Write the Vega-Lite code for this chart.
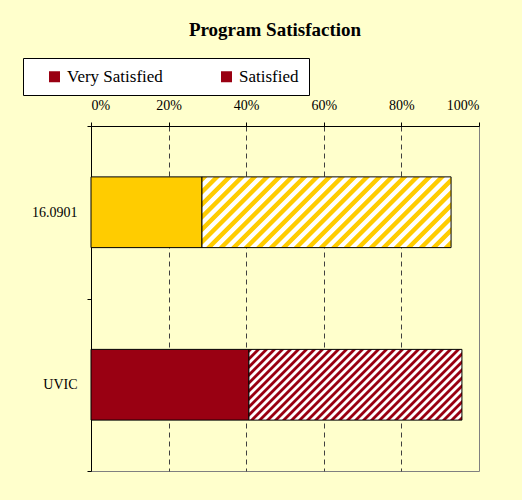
{
  "$schema": "https://vega.github.io/schema/vega-lite/v6.json",
  "width": 388,
  "height": 345,
  "autosize": {"type": "none"},
  "padding": {"left": 91, "top": 126, "right": 43, "bottom": 29},
  "background": "#FFFFCC",
  "config": {
    "view": {"stroke": "#808080", "strokeWidth": 1},
    "font": "'Liberation Serif', 'Times New Roman', serif",
    "legend": {"labelFont": "'Liberation Serif', 'Times New Roman', serif", "titleFont": "'Liberation Serif', 'Times New Roman', serif", "labelFontSize": 17, "labelColor": "black"}
  },
  "title": {"text": "Program Satisfaction", "font": "'Liberation Serif', 'Times New Roman', serif", "fontSize": 19, "fontWeight": "bold", "color": "black", "anchor": "middle", "dx": -10, "offset": 18},
  "data": {"values": [
    {"school": "16.0901", "level": "Very Satisfied", "pct": 0.286},
    {"school": "16.0901", "level": "Satisfied", "pct": 0.642},
    {"school": "UVIC", "level": "Very Satisfied", "pct": 0.407},
    {"school": "UVIC", "level": "Satisfied", "pct": 0.549}
  ]},
  "mark": {"type": "bar", "stroke": "black", "strokeWidth": 1, "height": {"band": 0.41}},
  "encoding": {
    "y": {"field": "school", "type": "nominal", "sort": ["16.0901", "UVIC"],
      "scale": {"paddingInner": 0, "paddingOuter": 0},
      "axis": {"title": null, "domainColor": "black", "tickColor": "black", "tickBand": "extent", "tickSize": 4, "labelFont": "'Liberation Serif', 'Times New Roman', serif", "labelFontSize": 14, "labelColor": "black", "labelPadding": 10, "grid": false}},
    "x": {"field": "pct", "type": "quantitative", "stack": "zero",
      "scale": {"domain": [0, 1], "nice": false},
      "axis": {"orient": "top", "title": null, "format": ".0%", "values": [0, 0.2, 0.4, 0.6, 0.8, 1],
        "grid": true, "gridDash": [5, 4], "gridColor": "#404040",
        "gridOpacity": {"condition": {"test": "datum.value <= 0 || datum.value >= 1", "value": 0}, "value": 1},
        "domainColor": "black", "tickColor": "black", "tickSize": 4,
        "labelFont": "'Liberation Serif', 'Times New Roman', serif", "labelFontSize": 14, "labelColor": "black", "labelPadding": 10}},
    "order": {"field": "level", "sort": "descending"},
    "opacity": {
      "field": "level", "type": "ordinal",
      "scale": {"domain": ["Very Satisfied", "Satisfied"], "range": [1, 1]},
      "legend": {
        "orient": "none", "legendX": -68, "legendY": -68, "direction": "horizontal",
        "title": " ", "titleOrient": "left", "titleFontSize": 17, "titlePadding": 13,
        "fillColor": "white", "strokeColor": "black", "padding": 10,
        "labelFont": "'Liberation Serif', 'Times New Roman', serif", "labelFontSize": 17, "labelColor": "black", "labelOffset": 4,
        "symbolType": "square", "symbolSize": 121, "symbolStrokeColor": "black", "symbolStrokeWidth": 1, "symbolOpacity": 1,
        "columnPadding": 55,
        "encode": {"symbols": {
          "fill": {
            "condition": {"test": "datum.value === 'Satisfied'", "value": {"gradient": "linear", "x1": 0, "y1": 0, "x2": 1, "y2": 1, "stops": [
              {"offset": 0, "color": "#990012"}, {"offset": 0.47, "color": "#990012"}, {"offset": 0.53, "color": "#FFFFFF"}, {"offset": 0.77, "color": "#FFFFFF"}, {"offset": 0.83, "color": "#990012"}, {"offset": 1, "color": "#990012"}
            ]}},
            "value": "#990012"
          },
          "stroke": {"value": "black"},
          "strokeWidth": {"value": 1}
        }}
      }
    },
    "fill": {
      "value": "#990012",
      "condition": [
        {"test": "datum.school === '16.0901' && datum.level === 'Very Satisfied'", "value": "#FFCC00"},
        {"test": "datum.school === '16.0901' && datum.level === 'Satisfied'", "value": {"gradient": "linear", "x1": 0, "y1": 0, "x2": 1.8576, "y2": 0.5272, "stops": [
          {"offset": 0, "color": "#FFCC00"}, {"offset": 0.01, "color": "#FFCC00"}, {"offset": 0.0125, "color": "#FFFFFF"}, {"offset": 0.0225, "color": "#FFFFFF"},
          {"offset": 0.025, "color": "#FFCC00"}, {"offset": 0.035, "color": "#FFCC00"}, {"offset": 0.0375, "color": "#FFFFFF"}, {"offset": 0.0475, "color": "#FFFFFF"},
          {"offset": 0.05, "color": "#FFCC00"}, {"offset": 0.06, "color": "#FFCC00"}, {"offset": 0.0625, "color": "#FFFFFF"}, {"offset": 0.0725, "color": "#FFFFFF"},
          {"offset": 0.075, "color": "#FFCC00"}, {"offset": 0.085, "color": "#FFCC00"}, {"offset": 0.0875, "color": "#FFFFFF"}, {"offset": 0.0975, "color": "#FFFFFF"},
          {"offset": 0.1, "color": "#FFCC00"}, {"offset": 0.11, "color": "#FFCC00"}, {"offset": 0.1125, "color": "#FFFFFF"}, {"offset": 0.1225, "color": "#FFFFFF"},
          {"offset": 0.125, "color": "#FFCC00"}, {"offset": 0.135, "color": "#FFCC00"}, {"offset": 0.1375, "color": "#FFFFFF"}, {"offset": 0.1475, "color": "#FFFFFF"},
          {"offset": 0.15, "color": "#FFCC00"}, {"offset": 0.16, "color": "#FFCC00"}, {"offset": 0.1625, "color": "#FFFFFF"}, {"offset": 0.1725, "color": "#FFFFFF"},
          {"offset": 0.175, "color": "#FFCC00"}, {"offset": 0.185, "color": "#FFCC00"}, {"offset": 0.1875, "color": "#FFFFFF"}, {"offset": 0.1975, "color": "#FFFFFF"},
          {"offset": 0.2, "color": "#FFCC00"}, {"offset": 0.21, "color": "#FFCC00"}, {"offset": 0.2125, "color": "#FFFFFF"}, {"offset": 0.2225, "color": "#FFFFFF"},
          {"offset": 0.225, "color": "#FFCC00"}, {"offset": 0.235, "color": "#FFCC00"}, {"offset": 0.2375, "color": "#FFFFFF"}, {"offset": 0.2475, "color": "#FFFFFF"},
          {"offset": 0.25, "color": "#FFCC00"}, {"offset": 0.26, "color": "#FFCC00"}, {"offset": 0.2625, "color": "#FFFFFF"}, {"offset": 0.2725, "color": "#FFFFFF"},
          {"offset": 0.275, "color": "#FFCC00"}, {"offset": 0.285, "color": "#FFCC00"}, {"offset": 0.2875, "color": "#FFFFFF"}, {"offset": 0.2975, "color": "#FFFFFF"},
          {"offset": 0.3, "color": "#FFCC00"}, {"offset": 0.31, "color": "#FFCC00"}, {"offset": 0.3125, "color": "#FFFFFF"}, {"offset": 0.3225, "color": "#FFFFFF"},
          {"offset": 0.325, "color": "#FFCC00"}, {"offset": 0.335, "color": "#FFCC00"}, {"offset": 0.3375, "color": "#FFFFFF"}, {"offset": 0.3475, "color": "#FFFFFF"},
          {"offset": 0.35, "color": "#FFCC00"}, {"offset": 0.36, "color": "#FFCC00"}, {"offset": 0.3625, "color": "#FFFFFF"}, {"offset": 0.3725, "color": "#FFFFFF"},
          {"offset": 0.375, "color": "#FFCC00"}, {"offset": 0.385, "color": "#FFCC00"}, {"offset": 0.3875, "color": "#FFFFFF"}, {"offset": 0.3975, "color": "#FFFFFF"},
          {"offset": 0.4, "color": "#FFCC00"}, {"offset": 0.41, "color": "#FFCC00"}, {"offset": 0.4125, "color": "#FFFFFF"}, {"offset": 0.4225, "color": "#FFFFFF"},
          {"offset": 0.425, "color": "#FFCC00"}, {"offset": 0.435, "color": "#FFCC00"}, {"offset": 0.4375, "color": "#FFFFFF"}, {"offset": 0.4475, "color": "#FFFFFF"},
          {"offset": 0.45, "color": "#FFCC00"}, {"offset": 0.46, "color": "#FFCC00"}, {"offset": 0.4625, "color": "#FFFFFF"}, {"offset": 0.4725, "color": "#FFFFFF"},
          {"offset": 0.475, "color": "#FFCC00"}, {"offset": 0.485, "color": "#FFCC00"}, {"offset": 0.4875, "color": "#FFFFFF"}, {"offset": 0.4975, "color": "#FFFFFF"},
          {"offset": 0.5, "color": "#FFCC00"}, {"offset": 0.51, "color": "#FFCC00"}, {"offset": 0.5125, "color": "#FFFFFF"}, {"offset": 0.5225, "color": "#FFFFFF"},
          {"offset": 0.525, "color": "#FFCC00"}, {"offset": 0.535, "color": "#FFCC00"}, {"offset": 0.5375, "color": "#FFFFFF"}, {"offset": 0.5475, "color": "#FFFFFF"},
          {"offset": 0.55, "color": "#FFCC00"}, {"offset": 0.56, "color": "#FFCC00"}, {"offset": 0.5625, "color": "#FFFFFF"}, {"offset": 0.5725, "color": "#FFFFFF"},
          {"offset": 0.575, "color": "#FFCC00"}, {"offset": 0.585, "color": "#FFCC00"}, {"offset": 0.5875, "color": "#FFFFFF"}, {"offset": 0.5975, "color": "#FFFFFF"},
          {"offset": 0.6, "color": "#FFCC00"}, {"offset": 0.61, "color": "#FFCC00"}, {"offset": 0.6125, "color": "#FFFFFF"}, {"offset": 0.6225, "color": "#FFFFFF"},
          {"offset": 0.625, "color": "#FFCC00"}, {"offset": 0.635, "color": "#FFCC00"}, {"offset": 0.6375, "color": "#FFFFFF"}, {"offset": 0.6475, "color": "#FFFFFF"},
          {"offset": 0.65, "color": "#FFCC00"}, {"offset": 1, "color": "#FFCC00"}
        ]}},
        {"test": "datum.school === 'UVIC' && datum.level === 'Satisfied'", "value": {"gradient": "linear", "x1": 0, "y1": 0, "x2": 1.6916, "y2": 0.5615, "stops": [
          {"offset": 0, "color": "#990012"}, {"offset": 0.008, "color": "#990012"}, {"offset": 0.01, "color": "#FFFFFF"}, {"offset": 0.018, "color": "#FFFFFF"},
          {"offset": 0.02, "color": "#990012"}, {"offset": 0.028, "color": "#990012"}, {"offset": 0.03, "color": "#FFFFFF"}, {"offset": 0.038, "color": "#FFFFFF"},
          {"offset": 0.04, "color": "#990012"}, {"offset": 0.048, "color": "#990012"}, {"offset": 0.05, "color": "#FFFFFF"}, {"offset": 0.058, "color": "#FFFFFF"},
          {"offset": 0.06, "color": "#990012"}, {"offset": 0.068, "color": "#990012"}, {"offset": 0.07, "color": "#FFFFFF"}, {"offset": 0.078, "color": "#FFFFFF"},
          {"offset": 0.08, "color": "#990012"}, {"offset": 0.088, "color": "#990012"}, {"offset": 0.09, "color": "#FFFFFF"}, {"offset": 0.098, "color": "#FFFFFF"},
          {"offset": 0.1, "color": "#990012"}, {"offset": 0.108, "color": "#990012"}, {"offset": 0.11, "color": "#FFFFFF"}, {"offset": 0.118, "color": "#FFFFFF"},
          {"offset": 0.12, "color": "#990012"}, {"offset": 0.128, "color": "#990012"}, {"offset": 0.13, "color": "#FFFFFF"}, {"offset": 0.138, "color": "#FFFFFF"},
          {"offset": 0.14, "color": "#990012"}, {"offset": 0.148, "color": "#990012"}, {"offset": 0.15, "color": "#FFFFFF"}, {"offset": 0.158, "color": "#FFFFFF"},
          {"offset": 0.16, "color": "#990012"}, {"offset": 0.168, "color": "#990012"}, {"offset": 0.17, "color": "#FFFFFF"}, {"offset": 0.178, "color": "#FFFFFF"},
          {"offset": 0.18, "color": "#990012"}, {"offset": 0.188, "color": "#990012"}, {"offset": 0.19, "color": "#FFFFFF"}, {"offset": 0.198, "color": "#FFFFFF"},
          {"offset": 0.2, "color": "#990012"}, {"offset": 0.208, "color": "#990012"}, {"offset": 0.21, "color": "#FFFFFF"}, {"offset": 0.218, "color": "#FFFFFF"},
          {"offset": 0.22, "color": "#990012"}, {"offset": 0.228, "color": "#990012"}, {"offset": 0.23, "color": "#FFFFFF"}, {"offset": 0.238, "color": "#FFFFFF"},
          {"offset": 0.24, "color": "#990012"}, {"offset": 0.248, "color": "#990012"}, {"offset": 0.25, "color": "#FFFFFF"}, {"offset": 0.258, "color": "#FFFFFF"},
          {"offset": 0.26, "color": "#990012"}, {"offset": 0.268, "color": "#990012"}, {"offset": 0.27, "color": "#FFFFFF"}, {"offset": 0.278, "color": "#FFFFFF"},
          {"offset": 0.28, "color": "#990012"}, {"offset": 0.288, "color": "#990012"}, {"offset": 0.29, "color": "#FFFFFF"}, {"offset": 0.298, "color": "#FFFFFF"},
          {"offset": 0.3, "color": "#990012"}, {"offset": 0.308, "color": "#990012"}, {"offset": 0.31, "color": "#FFFFFF"}, {"offset": 0.318, "color": "#FFFFFF"},
          {"offset": 0.32, "color": "#990012"}, {"offset": 0.328, "color": "#990012"}, {"offset": 0.33, "color": "#FFFFFF"}, {"offset": 0.338, "color": "#FFFFFF"},
          {"offset": 0.34, "color": "#990012"}, {"offset": 0.348, "color": "#990012"}, {"offset": 0.35, "color": "#FFFFFF"}, {"offset": 0.358, "color": "#FFFFFF"},
          {"offset": 0.36, "color": "#990012"}, {"offset": 0.368, "color": "#990012"}, {"offset": 0.37, "color": "#FFFFFF"}, {"offset": 0.378, "color": "#FFFFFF"},
          {"offset": 0.38, "color": "#990012"}, {"offset": 0.388, "color": "#990012"}, {"offset": 0.39, "color": "#FFFFFF"}, {"offset": 0.398, "color": "#FFFFFF"},
          {"offset": 0.4, "color": "#990012"}, {"offset": 0.408, "color": "#990012"}, {"offset": 0.41, "color": "#FFFFFF"}, {"offset": 0.418, "color": "#FFFFFF"},
          {"offset": 0.42, "color": "#990012"}, {"offset": 0.428, "color": "#990012"}, {"offset": 0.43, "color": "#FFFFFF"}, {"offset": 0.438, "color": "#FFFFFF"},
          {"offset": 0.44, "color": "#990012"}, {"offset": 0.448, "color": "#990012"}, {"offset": 0.45, "color": "#FFFFFF"}, {"offset": 0.458, "color": "#FFFFFF"},
          {"offset": 0.46, "color": "#990012"}, {"offset": 0.468, "color": "#990012"}, {"offset": 0.47, "color": "#FFFFFF"}, {"offset": 0.478, "color": "#FFFFFF"},
          {"offset": 0.48, "color": "#990012"}, {"offset": 0.488, "color": "#990012"}, {"offset": 0.49, "color": "#FFFFFF"}, {"offset": 0.498, "color": "#FFFFFF"},
          {"offset": 0.5, "color": "#990012"}, {"offset": 0.508, "color": "#990012"}, {"offset": 0.51, "color": "#FFFFFF"}, {"offset": 0.518, "color": "#FFFFFF"},
          {"offset": 0.52, "color": "#990012"}, {"offset": 0.528, "color": "#990012"}, {"offset": 0.53, "color": "#FFFFFF"}, {"offset": 0.538, "color": "#FFFFFF"},
          {"offset": 0.54, "color": "#990012"}, {"offset": 0.548, "color": "#990012"}, {"offset": 0.55, "color": "#FFFFFF"}, {"offset": 0.558, "color": "#FFFFFF"},
          {"offset": 0.56, "color": "#990012"}, {"offset": 0.568, "color": "#990012"}, {"offset": 0.57, "color": "#FFFFFF"}, {"offset": 0.578, "color": "#FFFFFF"},
          {"offset": 0.58, "color": "#990012"}, {"offset": 0.588, "color": "#990012"}, {"offset": 0.59, "color": "#FFFFFF"}, {"offset": 0.598, "color": "#FFFFFF"},
          {"offset": 0.6, "color": "#990012"}, {"offset": 0.608, "color": "#990012"}, {"offset": 0.61, "color": "#FFFFFF"}, {"offset": 0.618, "color": "#FFFFFF"},
          {"offset": 0.62, "color": "#990012"}, {"offset": 0.628, "color": "#990012"}, {"offset": 0.63, "color": "#FFFFFF"}, {"offset": 0.638, "color": "#FFFFFF"},
          {"offset": 0.64, "color": "#990012"}, {"offset": 0.648, "color": "#990012"}, {"offset": 0.65, "color": "#FFFFFF"}, {"offset": 0.658, "color": "#FFFFFF"},
          {"offset": 0.66, "color": "#990012"}, {"offset": 0.668, "color": "#990012"}, {"offset": 0.67, "color": "#FFFFFF"}, {"offset": 0.678, "color": "#FFFFFF"},
          {"offset": 0.68, "color": "#990012"}, {"offset": 0.688, "color": "#990012"}, {"offset": 0.69, "color": "#FFFFFF"}, {"offset": 0.698, "color": "#FFFFFF"},
          {"offset": 0.7, "color": "#990012"}, {"offset": 0.708, "color": "#990012"}, {"offset": 0.71, "color": "#FFFFFF"}, {"offset": 0.718, "color": "#FFFFFF"},
          {"offset": 0.72, "color": "#990012"}, {"offset": 1, "color": "#990012"}
        ]}}
      ]
    }
  }
}
